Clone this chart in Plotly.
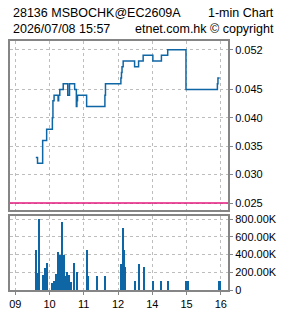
import plotly.graph_objects as go
from plotly.subplots import make_subplots

# ---- data ----
price_times = ["09:36", "09:39", "09:48", "09:55", "10:05", "10:06", "10:08", "10:15", "10:16",
               "10:18", "10:24", "10:32", "10:35", "10:44", "10:47", "10:48", "10:49", "11:05",
               "11:37", "11:38", "13:05", "13:06", "13:07", "13:09", "13:29", "13:36", "13:44",
               "14:01", "14:16", "14:27", "14:59", "15:54", "15:55", "15:58"]
price_values = [0.033, 0.032, 0.036, 0.038, 0.040, 0.043, 0.044, 0.043, 0.044,
                0.045, 0.046, 0.044, 0.046, 0.045, 0.042, 0.043, 0.044, 0.042,
                0.044, 0.046, 0.047, 0.048, 0.049, 0.050, 0.049, 0.050, 0.051,
                0.050, 0.051, 0.052, 0.045, 0.046, 0.047, 0.047]

vol_times = ["09:36", "09:39", "09:41", "09:48", "09:52", "09:55", "10:05", "10:08", "10:12",
             "10:15", "10:17", "10:19", "10:21", "10:22", "10:25", "10:28", "10:31", "10:34",
             "10:37", "10:43", "10:48", "11:05", "11:07", "11:24", "11:38", "13:06", "13:08",
             "13:10", "13:12", "13:30", "13:37", "13:45", "14:02", "14:16", "14:28", "14:59",
             "15:02", "15:56", "15:58"]
vol_values = [450000, 185000, 800000, 167000, 250000, 305000, 76000, 98000, 178000,
              430000, 395000, 395000, 105000, 760000, 395000, 150000, 195000, 160000,
              87000, 300000, 195000, 450000, 156000, 156000, 156000, 295000, 700000,
              450000, 257000, 100000, 295000, 257000, 100000, 100000, 100000, 100000,
              100000, 100000, 100000]

ref_price = 0.025
price_ticks = [0.025, 0.030, 0.035, 0.040, 0.045, 0.052]
vol_ticks = [0, 200000, 400000, 600000, 800000]
vol_tick_text = ["0", "200.00K", "400.00K", "600.00K", "800.00K"]
hour_ticks = ["09:00", "10:00", "11:00", "12:00", "14:00", "15:00", "16:00"]
hour_labels = ["09", "10", "11", "12", "14", "15", "16"]


def idx(hhmm):
    h, m = map(int, hhmm.split(":"))
    t = (h - 9) * 60 + m
    if t > 180:  # lunch break compressed
        t -= 60
    return t


px_ = [idx(t) for t in price_times]
vx = [idx(t) for t in vol_times]
hx = [idx(t) for t in hour_ticks]

BLUE = "#0f66a5"
GRID = "#bdbdbd"
FRAME = "#858585"
TICKFONT = dict(family="Liberation Sans, Arial, sans-serif", size=11, color="black")

fig = make_subplots(rows=2, cols=1, shared_xaxes=False, vertical_spacing=0)

fig.add_trace(go.Scatter(x=px_, y=price_values, mode="lines", line=dict(color=BLUE, width=1.5, shape="hv"),
                         hoverinfo="skip", showlegend=False), row=1, col=1)
fig.add_trace(go.Bar(x=vx, y=vol_values, marker=dict(color=BLUE, line=dict(width=0)), width=1.7,
                     hoverinfo="skip", showlegend=False), row=2, col=1)

fig.add_hline(y=ref_price, line=dict(color="#e3187e", width=1.5), row=1, col=1)

xrange_ = [-9.2, 372.6]
common_x = dict(range=xrange_, tickmode="array", tickvals=hx, showgrid=True, gridcolor=GRID,
                gridwidth=1, griddash="3px,3px", showline=True, mirror=True, linecolor=FRAME,
                linewidth=2, zeroline=False, fixedrange=True)
fig.update_xaxes(**common_x, showticklabels=False, ticks="", row=1, col=1)
fig.update_xaxes(**common_x, ticktext=hour_labels, showticklabels=True, ticks="outside",
                 ticklen=3, tickcolor=FRAME, tickfont=TICKFONT, row=2, col=1)

common_y = dict(side="right", showgrid=True, gridcolor=GRID, gridwidth=1, griddash="3px,3px",
                showline=True, mirror=True, linecolor=FRAME, linewidth=2, zeroline=False,
                ticks="outside", ticklen=3, tickcolor=FRAME, tickfont=TICKFONT, tickmode="array",
                fixedrange=True)
fig.update_yaxes(**common_y, range=[0.02385, 0.05353], tickvals=price_ticks,
                 ticktext=[f"{v:.3f}" for v in price_ticks], row=1, col=1)
fig.update_yaxes(**common_y, range=[0, 832000], tickvals=vol_ticks, ticktext=vol_tick_text,
                 row=2, col=1)

fig.update_layout(
    width=285, height=318,
    margin=dict(l=8, r=55, t=41, b=20),
    paper_bgcolor="white", plot_bgcolor="white",
    bargap=0,
    xaxis=dict(domain=[0, 1]), yaxis=dict(domain=[0.323, 1]),
    xaxis2=dict(domain=[0, 1]), yaxis2=dict(domain=[0, 0.2957]),
)

TFONT = dict(family="Liberation Sans, Arial, sans-serif", size=12.5, color="black")
H = 257.0
W = 222.0


def py(ypx):
    return 1 + (41 - ypx) / H


def pxx(xpx):
    return (xpx - 8) / W


fig.add_annotation(text="28136 MSBOCHK@EC2609A", x=pxx(9), y=py(12), xref="paper", yref="paper",
                   xanchor="left", yanchor="middle", showarrow=False, font=TFONT)
fig.add_annotation(text="1-min Chart", x=pxx(279), y=py(12), xref="paper", yref="paper",
                   xanchor="right", yanchor="middle", showarrow=False, font=TFONT)
fig.add_annotation(text="2026/07/08 15:57", x=pxx(9), y=py(29), xref="paper", yref="paper",
                   xanchor="left", yanchor="middle", showarrow=False, font=TFONT)
fig.add_annotation(text="etnet.com.hk © copyright", x=pxx(279), y=py(29), xref="paper", yref="paper",
                   xanchor="right", yanchor="middle", showarrow=False, font=TFONT)

fig.write_html("out.html", config={"displayModeBar": False})
